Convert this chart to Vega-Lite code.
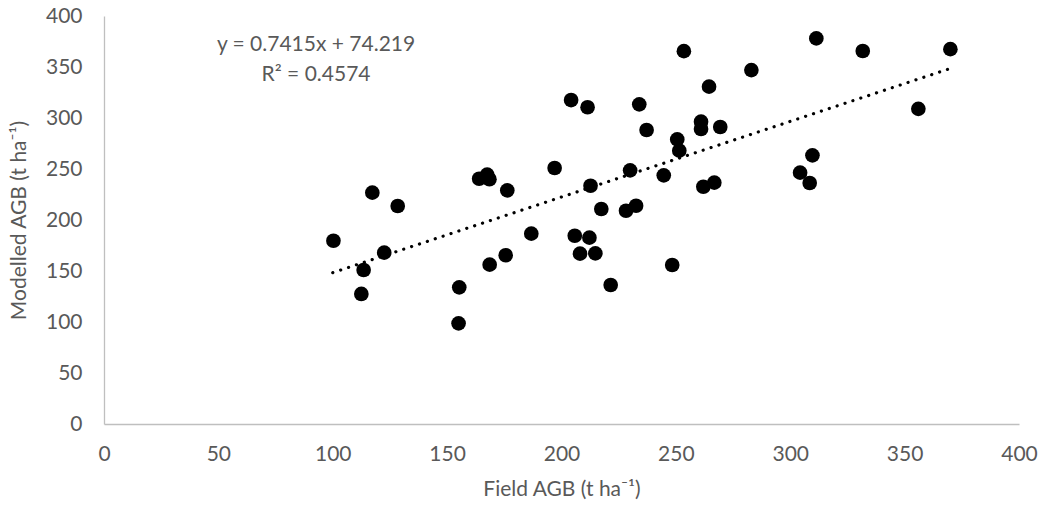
{
  "$schema": "https://vega.github.io/schema/vega-lite/v6.json",
  "width": 915,
  "height": 408,
  "autosize": "none",
  "padding": {"left": 104, "top": 16, "right": 21, "bottom": 84},
  "background": "white",
  "config": {
    "view": {"stroke": null},
    "font": "Lato",
    "axis": {
      "grid": false,
      "ticks": false,
      "labelFlush": false,
      "domainColor": "#bfbfbf",
      "domainWidth": 1.3,
      "labelColor": "#595959",
      "titleColor": "#595959",
      "labelFont": "Lato",
      "titleFont": "Lato",
      "labelFontSize": 21,
      "titleFontSize": 21,
      "titleFontWeight": "normal"
    }
  },
  "datasets": {
    "pts": [
      {"field": 100.3, "model": 179.7},
      {"field": 112.5, "model": 127.5},
      {"field": 113.5, "model": 151},
      {"field": 117.3, "model": 226.8},
      {"field": 122.5, "model": 168},
      {"field": 128.4, "model": 213.7},
      {"field": 155, "model": 98.7},
      {"field": 155.3, "model": 134},
      {"field": 164, "model": 240.4},
      {"field": 167.5, "model": 244.5},
      {"field": 168.5, "model": 240},
      {"field": 168.6, "model": 156.2},
      {"field": 175.6, "model": 165.4},
      {"field": 176.3, "model": 229},
      {"field": 186.8, "model": 186.6},
      {"field": 197, "model": 251},
      {"field": 204.2, "model": 317.6},
      {"field": 205.8, "model": 184.6},
      {"field": 208.1, "model": 167},
      {"field": 211.4, "model": 310.5},
      {"field": 212.2, "model": 182.7},
      {"field": 212.7, "model": 233.6},
      {"field": 214.8, "model": 167.3},
      {"field": 217.4, "model": 210.8},
      {"field": 221.5, "model": 136.3},
      {"field": 228.2, "model": 209.1},
      {"field": 230, "model": 248.7},
      {"field": 232.6, "model": 214},
      {"field": 234, "model": 313.4},
      {"field": 237.2, "model": 288.2},
      {"field": 244.7, "model": 243.8},
      {"field": 248.4, "model": 155.9},
      {"field": 250.6, "model": 279},
      {"field": 251.5, "model": 268},
      {"field": 253.5, "model": 365.5},
      {"field": 261, "model": 296.4},
      {"field": 261, "model": 289.2},
      {"field": 262, "model": 232.6},
      {"field": 264.5, "model": 330.7},
      {"field": 266.8, "model": 236.6},
      {"field": 269.4, "model": 291.2},
      {"field": 283, "model": 347},
      {"field": 304.3, "model": 246.4},
      {"field": 308.5, "model": 236.3},
      {"field": 309.7, "model": 263.4},
      {"field": 311.4, "model": 378},
      {"field": 331.7, "model": 365.7},
      {"field": 356, "model": 309},
      {"field": 370, "model": 367.5}
    ],
    "trend": [
      {"field": 100, "model": 148.37},
      {"field": 370, "model": 348.57}
    ],
    "labels": [
      {"field": 92.7, "model": 371.5, "txt": "y = 0.7415x + 74.219"},
      {"field": 92.7, "model": 342, "txt": "R² = 0.4574"}
    ]
  },
  "layer": [
    {
      "data": {"name": "trend"},
      "mark": {"type": "line", "color": "#000000", "strokeWidth": 3.2, "strokeCap": "round", "strokeDash": [0.1, 8.2]},
      "encoding": {
        "x": {"field": "field", "type": "quantitative", "scale": {"domain": [0, 400], "nice": false}, "axis": {"values": [0, 50, 100, 150, 200, 250, 300, 350, 400], "labelPadding": 19, "title": "Field AGB (t ha⁻¹)", "titlePadding": 14}},
        "y": {"field": "model", "type": "quantitative", "scale": {"domain": [0, 400], "nice": false}, "axis": {"values": [0, 50, 100, 150, 200, 250, 300, 350, 400], "labelPadding": 22, "title": "Modelled AGB (t ha⁻¹)", "titlePadding": 16}}
      }
    },
    {
      "data": {"name": "pts"},
      "mark": {"type": "point", "shape": "circle", "filled": true, "color": "#000000", "opacity": 1, "size": 215},
      "encoding": {
        "x": {"field": "field", "type": "quantitative"},
        "y": {"field": "model", "type": "quantitative"}
      }
    },
    {
      "data": {"name": "labels"},
      "mark": {"type": "text", "font": "Lato", "fontSize": 21, "color": "#595959", "align": "center", "baseline": "middle"},
      "encoding": {
        "x": {"field": "field", "type": "quantitative"},
        "y": {"field": "model", "type": "quantitative"},
        "text": {"field": "txt"}
      }
    }
  ]
}
